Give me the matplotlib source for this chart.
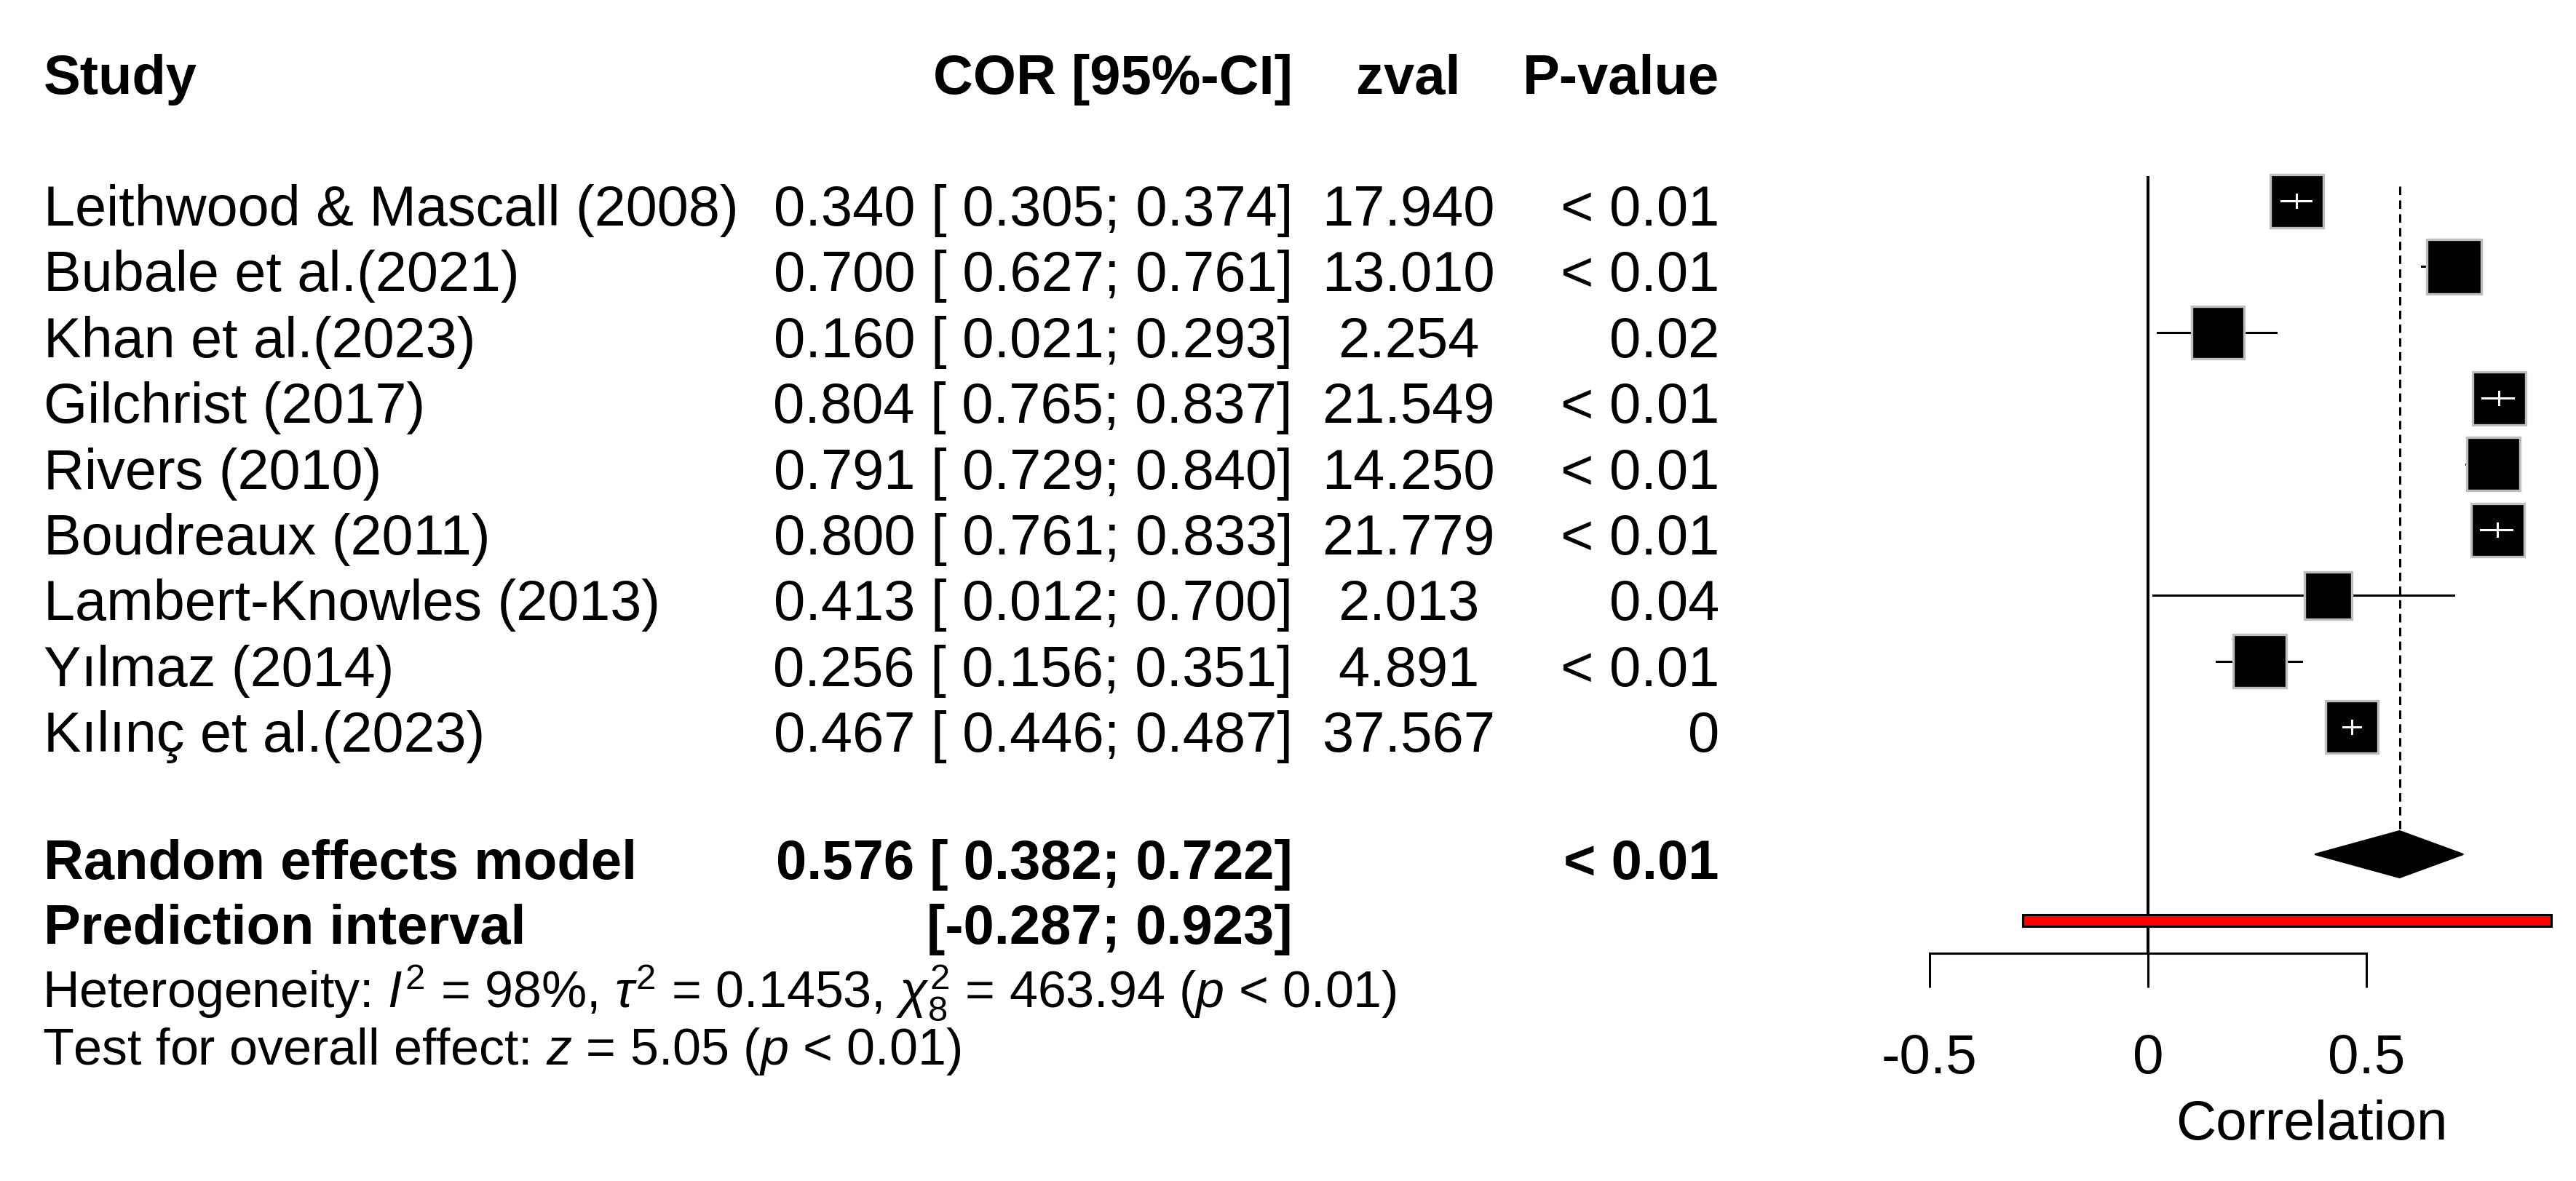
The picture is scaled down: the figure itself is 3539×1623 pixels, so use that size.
import numpy as np
import matplotlib
import matplotlib.pyplot as plt
from matplotlib.patches import Rectangle, Polygon

plt.rcParams['font.family'] = ['Liberation Sans', 'DejaVu Sans']
plt.rcParams['mathtext.fontset'] = 'custom'
plt.rcParams['mathtext.rm'] = 'Liberation Sans'
plt.rcParams['mathtext.it'] = 'Liberation Sans:italic'
plt.rcParams['mathtext.bf'] = 'Liberation Sans:bold'
plt.rcParams['axes.unicode_minus'] = False

studies = ['Leithwood & Mascall (2008)', 'Bubale et al.(2021)', 'Khan et al.(2023)',
           'Gilchrist (2017)', 'Rivers (2010)', 'Boudreaux (2011)',
           'Lambert-Knowles (2013)', 'Y\u0131lmaz (2014)', 'K\u0131l\u0131n\u00e7 et al.(2023)']
cor = [0.340, 0.700, 0.160, 0.804, 0.791, 0.800, 0.413, 0.256, 0.467]
lower = [0.305, 0.627, 0.021, 0.765, 0.729, 0.761, 0.012, 0.156, 0.446]
upper = [0.374, 0.761, 0.293, 0.837, 0.840, 0.833, 0.700, 0.351, 0.487]
zval = [17.940, 13.010, 2.254, 21.549, 14.250, 21.779, 2.013, 4.891, 37.567]
pval = ['< 0.01', '< 0.01', '0.02', '< 0.01', '< 0.01', '< 0.01', '0.04', '< 0.01', '0']

re_est, re_lo, re_hi = 0.576, 0.382, 0.722
re_p = '< 0.01'
pi_lo, pi_hi = -0.287, 0.923
ticks = [-0.5, 0, 0.5]
tick_labels = ['-0.5', '0', '0.5']

# square sizes (pixels) ~ weights
sq_px = [73, 75, 72, 73, 73, 73, 65, 73, 72]

W, H = 3539, 1624
fig = plt.figure(figsize=(W / 100, H / 100), dpi=100)

# forest panel: x in correlation units, y in pixels from top
x0_px, ppu = 2951, 600.0
ax_left = 2560
ax = fig.add_axes([ax_left / W, 0, (W - ax_left) / W, 1])
ax.set_xlim((ax_left - x0_px) / ppu, (W - x0_px) / ppu)
ax.set_ylim(H, 0)
ax.patch.set_alpha(0)
for s in ['top', 'left', 'right']:
    ax.spines[s].set_visible(False)
ax.set_yticks([])

row_y = [277 + 90.4 * i for i in range(len(studies))]
y_re, y_pi = 1175, 1266
lw = 2.2

# reference lines
ax.plot([0, 0], [243, 1311], color='black', lw=2.9, solid_capstyle='butt')
ax.plot([re_est, re_est], [257, y_re - 32], color='black', lw=lw,
        linestyle=(0, (3.8, 2.4)))

for i in range(len(studies)):
    y = row_y[i]
    s = sq_px[i]
    half = s / 2 / ppu
    inside = lower[i] >= cor[i] - half and upper[i] <= cor[i] + half
    if not inside:
        ax.plot([lower[i], upper[i]], [y, y], color='black', lw=lw, zorder=2)
    ax.add_patch(Rectangle((cor[i] - half, y - s / 2), 2 * half, s,
                           facecolor='black', edgecolor='#BEBEBE', lw=2.4, zorder=3))
    if inside:
        ax.plot([lower[i], upper[i]], [y, y], color='white', lw=lw, zorder=4)
        ax.plot([cor[i], cor[i]], [y - 9, y + 9], color='white', lw=lw, zorder=4)

# random effects diamond
ax.add_patch(Polygon([[re_lo, y_re], [re_est, y_re - 32], [re_hi, y_re], [re_est, y_re + 32]],
                     closed=True, facecolor='black', edgecolor='black', lw=1.5, zorder=3))
# prediction interval
ax.add_patch(Rectangle((pi_lo, y_pi - 8), pi_hi - pi_lo, 16, facecolor='red',
                       edgecolor='black', lw=lw, zorder=3))

# x axis
ax.spines['bottom'].set_position(('data', 1311))
ax.spines['bottom'].set_bounds(-0.5, 0.5)
ax.spines['bottom'].set_linewidth(lw)
ax.set_xticks(ticks)
ax.set_xticklabels(tick_labels)
ax.tick_params(axis='x', direction='out', length=47 / 1.389, width=lw,
               labelsize=55, pad=45)
ax.text(0.375, 1566, 'Correlation', fontsize=55, ha='center', va='baseline')


def ft(xp, yp, s, **kw):
    fig.text(xp / W, 1 - yp / H, s, va='baseline', **kw)


fs = 55.7
fsb = 54.7
hy = 129
ft(60, hy, 'Study', fontsize=fsb, fontweight='bold', ha='left')
ft(1776, hy, 'COR [95%-CI]', fontsize=fsb, fontweight='bold', ha='right')
ft(1935, hy, 'zval', fontsize=fsb, fontweight='bold', ha='center')
ft(2362, hy, 'P-value', fontsize=fsb, fontweight='bold', ha='right')

for i in range(len(studies)):
    yb = row_y[i] + 33
    ft(60, yb, studies[i], fontsize=fs, ha='left')
    ft(1776, yb, f'{cor[i]:.3f} [{lower[i]:6.3f}; {upper[i]:.3f}]', fontsize=56, ha='right')
    ft(1935, yb, f'{zval[i]:.3f}', fontsize=56, ha='center')
    ft(2362, yb, pval[i], fontsize=56, ha='right')

ft(60, y_re + 33, 'Random effects model', fontsize=fsb, fontweight='bold', ha='left')
ft(1776, y_re + 33, f'{re_est:.3f} [{re_lo:6.3f}; {re_hi:.3f}]', fontsize=fsb,
   fontweight='bold', ha='right')
ft(2362, y_re + 33, re_p, fontsize=fsb, fontweight='bold', ha='right')
ft(60, y_pi + 31, 'Prediction interval', fontsize=fsb, fontweight='bold', ha='left')
ft(1776, y_pi + 31, f'[{pi_lo:.3f}; {pi_hi:.3f}]', fontsize=fsb, fontweight='bold', ha='right')

ft(58, 1385, r'Heterogeneity: $I^2$ = 98%, $\tau^2$ = 0.1453, $\chi^2_8$ = 463.94 ($p$ < 0.01)',
   fontsize=50.4, ha='left')
ft(58, 1463, r'Test for overall effect: $z$ = 5.05 ($p$ < 0.01)', fontsize=50.4, ha='left')

plt.savefig('out.png', dpi=100)
